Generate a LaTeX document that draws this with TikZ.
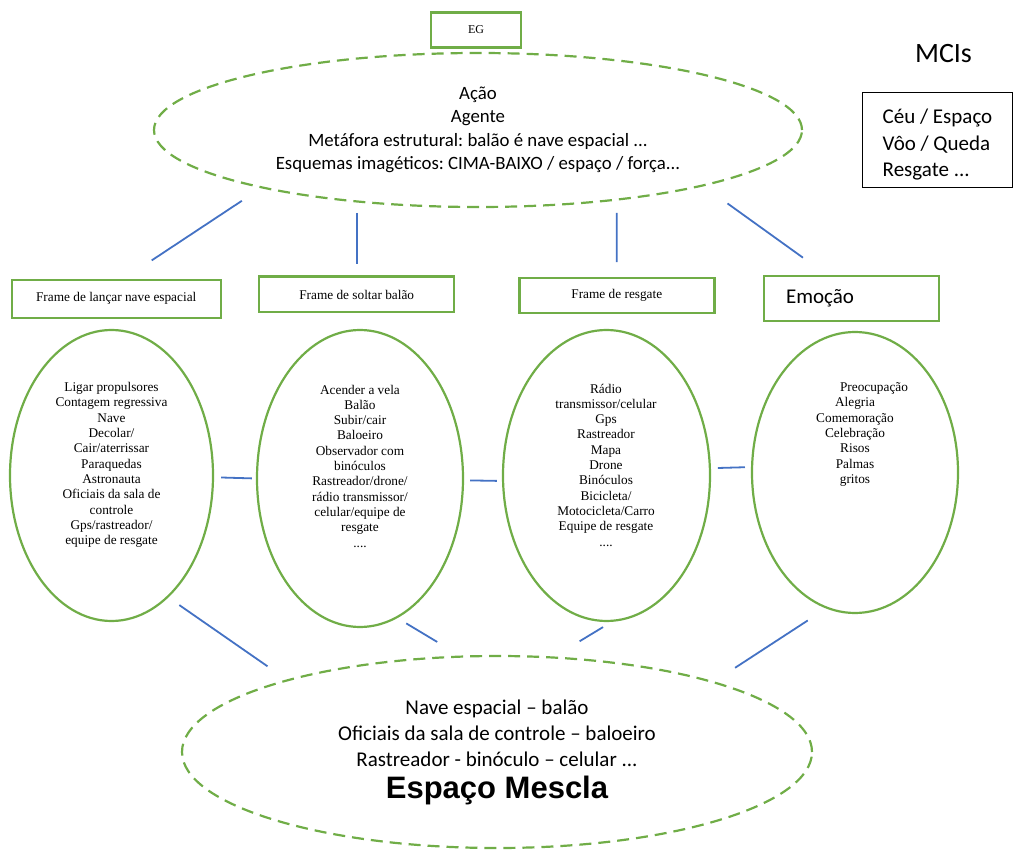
\documentclass[tikz,border=0pt]{standalone}
\usepackage{fontspec}
\setmainfont{Liberation Serif}
\newfontfamily\calibri{Carlito}
\newfontfamily\arialfont{Liberation Sans}
\usetikzlibrary{shapes.geometric,calc}
\definecolor{frgreen}{HTML}{70AD47}
\definecolor{lnblue}{HTML}{4472C4}

\begin{document}
\frenchspacing
\begin{tikzpicture}[x=1pt, y=-1pt,
    framebox/.style={draw=frgreen, line width=2.4pt, inner sep=0pt, font=\fontsize{13.3}{15.3}\selectfont},
    frameell/.style={draw=frgreen, line width=2.2pt, ellipse, inner sep=0pt},
    dashell/.style={draw=frgreen, line width=2.2pt, dash pattern=on 12pt off 7pt, ellipse, inner sep=0pt, align=center},
    itemtext/.style={align=center, font=\fontsize{13.3}{15.3}\selectfont},
    link/.style={draw=lnblue, line width=1.8pt}]
    \useasboundingbox (0,0) rectangle (1013,850);

    % Generic space on top
    \node[framebox, minimum width=90pt, minimum height=35pt, font=\fontsize{12}{14}\selectfont] (eg) at (476,30) {EG};
    \node[dashell, minimum width=648pt, minimum height=154pt, font=\calibri\fontsize{18.8}{23.5}\selectfont] (genspace) at (478,130)
        {Ação\\Agente\\Metáfora estrutural: balão é nave espacial ...\\Esquemas imagéticos: CIMA-BAIXO / espaço / força...};

    % MCIs
    \node[font=\calibri\fontsize{28}{32}\selectfont] (mcis) at (943.5,54) {MCIs};
    \node[draw, line width=0.9pt, minimum width=150pt, minimum height=95pt] (mcibox) at (937.5,139.5) {};
    \node[anchor=west, align=left, inner sep=0pt, font=\calibri\fontsize{21}{26.5}\selectfont] (mcitext) at (882.5,145)
        {Céu / Espaço\\Vôo / Queda\\Resgate ...};

    % Frame labels
    \node[framebox, minimum width=209pt, minimum height=38pt] (fnave) at (116.2,298.8) {Frame de lançar nave espacial};
    \node[framebox, minimum width=195pt, minimum height=35.6pt] (fbalao) at (356.7,294.5) {Frame de soltar balão};
    \node[framebox, minimum width=195pt, minimum height=35pt] (fresgate) at (616.8,295.8) {Frame de resgate};
    \node[framebox, minimum height=45pt, text width=131pt, inner xsep=22pt, align=left, font=\calibri\fontsize{21}{25}\selectfont] (femocao) at (851.5,298.3) {Emoção};

    % Frame ellipses
    \node[frameell, minimum width=203pt, minimum height=291pt] (enave) at (111.5,475.5) {};
    \node[frameell, minimum width=206pt, minimum height=297pt] (ebalao) at (360,478.5) {};
    \node[frameell, minimum width=207pt, minimum height=291pt] (eresgate) at (606.5,475.5) {};
    \node[frameell, minimum width=206pt, minimum height=281pt] (eemocao) at (855,472.5) {};

    \node[itemtext] (tnave) at (111.5,465) {Ligar propulsores\\Contagem regressiva\\Nave\\Decolar/\\Cair/aterrissar\\Paraquedas\\Astronauta\\Oficiais da sala de\\controle\\Gps/rastreador/\\equipe de resgate};
    \node[itemtext] (tbalao) at (360,466) {Acender a vela\\Balão\\Subir/cair\\Baloeiro\\Observador com\\binóculos\\Rastreador/drone/\\rádio transmissor/\\celular/equipe de\\resgate\\....};
    \node[itemtext] (tresgate) at (606,465) {Rádio\\transmissor/celular\\Gps\\Rastreador\\Mapa\\Drone\\Binóculos\\Bicicleta/\\Motocicleta/Carro\\Equipe de resgate\\....};
    \node[itemtext] (temocao) at (855,434.5) {\hspace*{38pt}Preocupação\\Alegria\\Comemoração\\Celebração\\Risos\\Palmas\\gritos};

    % Blended space
    \node[dashell, minimum width=630pt, minimum height=192pt, font=\calibri\fontsize{21}{26}\selectfont] (mescla) at (497,752)
        {Nave espacial – balão\\Oficiais da sala de controle – baloeiro\\Rastreador - binóculo – celular ...\\[6pt]{\arialfont\bfseries\fontsize{31}{33}\selectfont Espaço Mescla}};

    % Lines from the generic space
    \draw[link, shorten <=23pt, shorten >=33pt] (genspace.195.8) -- ($(fnave.north)+(8,0)$);
    \draw[link, shorten <=10.7pt, shorten >=11pt] (fbalao.north |- genspace.210.9) -- (fbalao.north);
    \draw[link, shorten <=12.3pt, shorten >=15pt] (genspace.333) -- (fresgate.north);
    \draw[link, shorten <=29.5pt, shorten >=29pt] (genspace.346) -- ($(femocao.north)+(-25,0)$);

    % Lines between the frames
    \draw[link, shorten <=7pt, shorten >=4pt] (enave.-1.4) -- (ebalao.180);
    \draw[link, shorten <=6pt, shorten >=5pt] (ebalao.-1.95) -- (eresgate.183.6);
    \draw[link, shorten <=7pt, shorten >=6pt] (eresgate.4.1) -- (eemocao.177.5);

    % Lines into the blend
    \draw[link, shorten <=13.3pt, shorten >=23.2pt] (enave.295.1) -- (mescla.161);
    \draw[link, shorten <=10.3pt, shorten >=26.5pt] (ebalao.285.6) -- (mescla.111.7);
    \draw[link, shorten <=10pt, shorten >=29.5pt] (eresgate.272) -- (mescla.59.9);
    \draw[link, shorten <=21.9pt, shorten >=25pt] (eemocao.258.2) -- (mescla.18.8);
\end{tikzpicture}
\end{document}
